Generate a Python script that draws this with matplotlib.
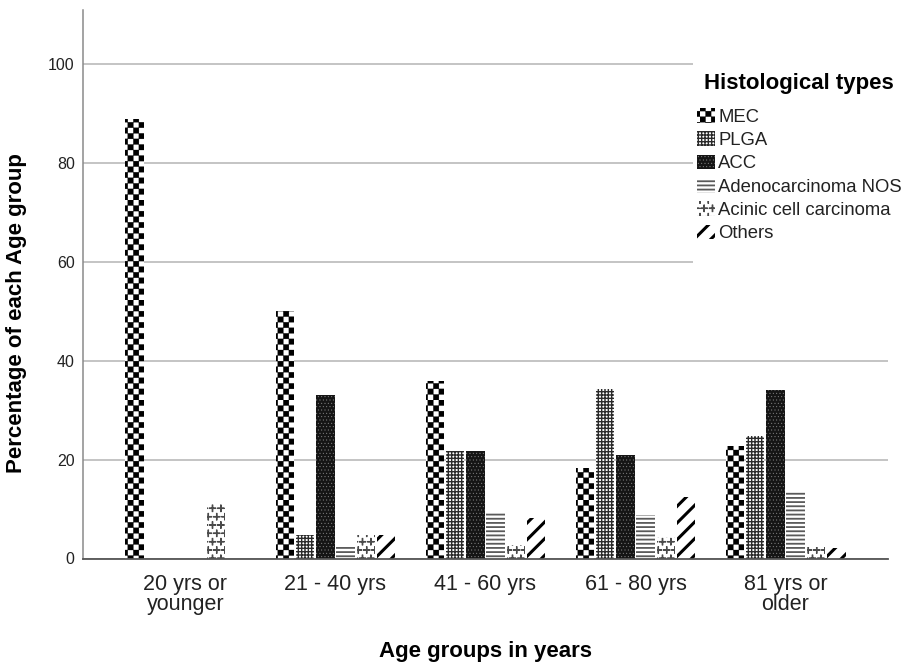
import matplotlib
matplotlib.use("Agg")
import matplotlib.hatch as mhatch
import matplotlib.pyplot as plt
import numpy as np
from matplotlib.patches import Rectangle
from matplotlib.path import Path


age_groups = ["20 yrs or\nyounger", "21 - 40 yrs", "41 - 60 yrs", "61 - 80 yrs", "81 yrs or\nolder"]
type_names = ["MEC", "PLGA", "ACC", "Adenocarcinoma NOS", "Acinic cell carcinoma", "Others"]

mec = [89.0, 50.0, 36.0, 18.4, 22.8]
plga = [0.0, 4.8, 21.7, 34.3, 24.8]
acc = [0.0, 33.1, 21.7, 21.0, 34.0]
adeno_nos = [0.0, 2.4, 9.5, 8.9, 13.7]
acinic = [11.0, 4.8, 2.8, 4.4, 2.3]
others = [0.0, 4.8, 8.2, 12.5, 2.2]

y_ticks = [0, 20, 40, 60, 80, 100]


class CheckerHatch(mhatch.HatchPatternBase):
    """Filled checkerboard, one unit of fineness per 'O' in the hatch string."""

    def __init__(self, hatch, density):
        self.num_cells = hatch.count("O") * density
        self.num_vertices = (self.num_cells * self.num_cells // 2) * 5

    def set_vertices_and_codes(self, vertices, codes):
        n = self.num_cells
        s = 1.0 / n
        square = np.array([[0, 0], [s, 0], [s, s], [0, s], [0, 0]])
        square_codes = [Path.MOVETO, Path.LINETO, Path.LINETO, Path.LINETO, Path.CLOSEPOLY]
        k = 0
        for i in range(n):
            for j in range(n):
                if (i + j) % 2 == 0:
                    vertices[k:k + 5] = square + [i * s, j * s]
                    codes[k:k + 5] = square_codes
                    k += 5


class PlusHatch(mhatch.Shapes):
    """Staggered small plus signs, one unit per '*' in the hatch string."""
    size = 0.75
    filled = False

    def __init__(self, hatch, density):
        self.num_rows = hatch.count("*") * density
        self.shape_vertices = np.array([[-0.5, 0.0], [0.5, 0.0], [0.0, -0.5], [0.0, 0.5]])
        self.shape_codes = np.array([Path.MOVETO, Path.LINETO, Path.MOVETO, Path.LINETO],
                                    dtype=Path.code_type)
        super().__init__(hatch, density)


# swap the circle / star patterns for a checkerboard and plus signs
mhatch._hatch_types = [
    CheckerHatch if t is mhatch.LargeCircles else PlusHatch if t is mhatch.Stars else t
    for t in mhatch._hatch_types
]

plt.rcParams["font.family"] = ["Liberation Sans", "DejaVu Sans"]

styles = [
    # face, hatch colour, hatch, hatch linewidth
    ("white", "black", "OOO", 0.2),
    ("white", "#2a2a2a", "+++++", 1.0),
    ("#151515", "#8a8a8a", ".....", 0.3),
    ("white", "#5a5a5a", "----", 1.3),
    ("white", "#4a4a4a", "**", 1.0),
    ("white", "black", "//", 2.2),
]

series = [mec, plga, acc, adeno_nos, acinic, others]

fig = plt.figure(figsize=(9.04, 6.63), dpi=100)
ax = fig.add_axes([83 / 904, 104.5 / 663, 805 / 904, 548.5 / 663])

x = np.arange(len(age_groups))
step = 0.1353
width = 0.123
for j, (values, name, (face, hcol, hatch, hlw)) in enumerate(zip(series, type_names, styles)):
    with plt.rc_context({"hatch.linewidth": hlw}):
        bars = ax.bar(x + (j - 2.5) * step, values, width, color=face, edgecolor=hcol,
                      hatch=hatch, linewidth=0, label=name, zorder=2)
    for p in bars:
        if hasattr(p, "set_hatch_linewidth"):
            p.set_hatch_linewidth(hlw)

ax.set_xlim(-0.683, 4.683)
ax.set_ylim(0, 111)
ax.set_yticks(y_ticks)
ax.set_xticks(x)
ax.set_xticklabels(age_groups, fontsize=15.5, linespacing=0.95)
ax.tick_params(axis="x", length=0, pad=11, labelcolor="#222222")
ax.tick_params(axis="y", length=0, pad=6, labelsize=11.5, labelcolor="#222222")

ax.set_axisbelow(True)
ax.yaxis.grid(True, color="#c4c4c4", linewidth=1.4)
ax.spines["top"].set_visible(False)
ax.spines["right"].set_visible(False)
ax.spines["left"].set_color("#8a8a8a")
ax.spines["left"].set_linewidth(1.1)
ax.spines["bottom"].set_color("#555555")
ax.spines["bottom"].set_linewidth(1.3)

ax.set_xlabel("Age groups in years", fontsize=16, fontweight="bold", labelpad=19)
ax.set_ylabel("Percentage of each Age group", fontsize=16, fontweight="bold")
ax.yaxis.set_label_coords(-0.069, 0.448)

# white box behind the legend hides the grid lines there
ax.add_patch(Rectangle((0.758, 0.533), 0.27, 0.38, transform=ax.transAxes,
                       facecolor="white", edgecolor="none", clip_on=False, zorder=1))

fig.text(799 / 904, 1 - 83 / 663, "Histological types", fontsize=16, fontweight="bold",
         ha="center", va="center")
leg = ax.legend(loc="upper left", bbox_to_anchor=(697 / 904, 1 - 108 / 663),
                bbox_transform=fig.transFigure, frameon=False, fontsize=13.3,
                handlelength=0.95, handleheight=0.85, handletextpad=0.2,
                labelspacing=0.3, borderpad=0, borderaxespad=0)
for handle, (_, _, _, hlw) in zip(leg.legend_handles, styles):
    if hasattr(handle, "set_hatch_linewidth"):
        handle.set_hatch_linewidth(hlw)
for text in leg.get_texts():
    text.set_color("#222222")

fig.savefig("out.png", dpi=100, facecolor="white")
